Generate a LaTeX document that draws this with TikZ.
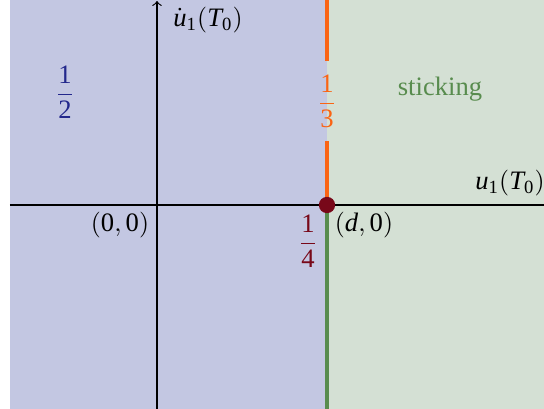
\documentclass[tikz,border=0pt]{standalone}
\usepackage{amsmath}
\usepackage{fontspec}
\setmainfont{Liberation Serif}
\definecolor{bfill}{RGB}{195,199,226}
\definecolor{gfill}{RGB}{212,224,212}
\definecolor{dblue}{RGB}{35,40,140}
\definecolor{orng}{RGB}{250,100,20}
\definecolor{dred}{RGB}{120,8,25}
\definecolor{dgreen}{RGB}{88,140,78}
\newcommand\mr[1]{\mathrm{#1}}
\newcommand\mi[1]{\mathit{#1}}
\tikzset{
  axisline/.style={line width=0.45pt,black},
  regline/.style={line width=1.2pt},
  lbl/.style={inner sep=1pt,font=\fontsize{10.3pt}{12pt}\selectfont},
}
\begin{document}
\begin{tikzpicture}[x=0.387pt,y=-0.387pt]
\useasboundingbox (0,0) rectangle (544,409);
\clip (0,0) rectangle (544,409);
\fill[bfill] (10,0) rectangle (327,409);
\fill[gfill] (327,0) rectangle (544,409);
% axes
\coordinate (xl) at (10,205);
\coordinate (xr) at (552,205);
\coordinate (yb) at (157,409);
\coordinate (yt) at (157,1);
\draw[axisline,->] (xl) -- (xr);
\draw[axisline,->] (yb) -- (yt);
% labels
\node[lbl,text=dblue] (h) at (65,92) {$\dfrac{\text{1}}{\text{2}}$};
\node[lbl,text=orng,inner sep=5pt] (t) at (327,101) {$\dfrac{\text{1}}{\text{3}}$};
\node[lbl,text=dred] (q) at (308,241) {$\dfrac{\text{1}}{\text{4}}$};
\node[lbl,text=dgreen] (st) at (440,89) {sticking};
\node[lbl] (xlab) at (510,183) {$\mi{u}_{\mr{1}}\mr{(}\mi{T}_{\mr{0}}\mr{)}$};
\node[lbl] (ylab) at (208,20) {$\dot{\mi{u}}_{\mr{1}}\mr{(}\mi{T}_{\mr{0}}\mr{)}$};
\node[lbl] (o) at (120,225) {$\mr{(0,0)}$};
\node[lbl] (dz) at (364,225) {$\mr{(}\mi{d}\mr{,0)}$};
% coloured lines
\coordinate (top) at (327,0);
\coordinate (bot) at (327,409);
\coordinate (dc) at (327,205);
\draw[regline,orng] (top) -- (t.north);
\draw[regline,orng] (t.south) -- (dc);
\draw[regline,dgreen] (dc) -- (bot);
\node[circle,fill=dred,inner sep=0pt,minimum size=6.3pt] (dot) at (dc) {};
\end{tikzpicture}
\end{document}
